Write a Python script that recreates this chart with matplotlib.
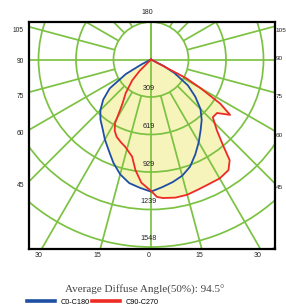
import numpy as np
import matplotlib
matplotlib.use('Agg')
import matplotlib.pyplot as plt
from matplotlib.patches import Circle, Polygon
from matplotlib.lines import Line2D

# ---------------- data ----------------
ring_labels = [309, 619, 929, 1239, 1548]
side_ticks = [105, 90, 75, 60, 45]
bottom_ticks = [-30, -15, 0, 15, 30]
top_tick = 180

# C0-C180 (blue); angle in degrees from nadir, negative = left half
c0_angles = [-63, -60, -55, -50, -45, -40, -35, -30, -25, -20, -15, -10, -5, 0,
             5, 10, 15, 20, 25, 30, 35, 40, 45, 50, 55, 60, 63]
c0_values = [83, 240, 417, 515, 591, 649, 697, 762, 827, 908, 982, 1036, 1063, 1091,
             1058, 1028, 994, 942, 865, 788, 714, 651, 578, 477, 371, 223, 116]

# C90-C270 (red)
c90_angles = [-45, -42, -37, -33, -31.5, -29.5, -27, -24, -20, -16.5, -11, -8, -4.5, 0,
              2.5, 5, 10, 15, 20, 25, 30, 35, 38, 40, 43, 47, 51, 55, 57.5, 60, 62]
c90_values = [132, 231, 347, 430, 487, 603, 660, 698, 727, 751, 817, 922, 1020, 1085,
              1136, 1148, 1158, 1156, 1142, 1134, 1134, 1115, 1055, 925, 796, 698, 702,
              797, 677, 470, 330]

caption = "Average Diffuse Angle(50%): 94.5°"
legend_labels = ["C0-C180", "C90-C270"]

# ---------------- style ----------------
GREEN = '#7cc242'
FILL = '#f6f3bb'
BLUE = '#1f4fa3'
RED = '#ee2a24'
LABEL_FONT = ['Liberation Sans', 'DejaVu Sans']

fig = plt.figure(figsize=(2.86, 3.08), dpi=100)
ax = fig.add_axes([29/286, 1-249/308, 246/286, 227/308])
ring_step = ring_labels[-1] / 5.0
px = ring_step / 37.5  # data units per pixel

xmin, xmax = -122*px, 124*px
ymin, ymax = -189.5*px, 37.5*px
ax.set_xlim(xmin, xmax)
ax.set_ylim(ymin, ymax)
ax.set_aspect('equal')
ax.set_xticks([]); ax.set_yticks([])
for s in ax.spines.values():
    s.set_linewidth(1.6)
    s.set_color('black')
    s.set_zorder(10)


def to_xy(angles, values):
    a = np.radians(np.asarray(angles, float))
    v = np.asarray(values, float)
    x = np.concatenate([[0], v*np.sin(a), [0]])
    y = np.concatenate([[0], -v*np.cos(a), [0]])
    return x, y

bx, by = to_xy(c0_angles, c0_values)
rx, ry = to_xy(c90_angles, c90_values)

ax.add_patch(Polygon(np.c_[bx, by], closed=True, facecolor=FILL, edgecolor='none', zorder=1))
ax.add_patch(Polygon(np.c_[rx, ry], closed=True, facecolor=FILL, edgecolor='none', zorder=1))

# grid rings
for k in range(1, 8):
    ax.add_patch(Circle((0, 0), k*ring_step, fill=False, edgecolor=GREEN, lw=1.25, zorder=2))
# radial lines
R = 4000
for a in range(-180, 181, 15):
    r0 = 0 if a % 90 == 0 else ring_step
    t = np.radians(a)
    ax.plot([r0*np.sin(t), R*np.sin(t)], [-r0*np.cos(t), -R*np.cos(t)],
            color=GREEN, lw=1.25, zorder=2, solid_capstyle='butt')

ax.plot(bx, by, color=BLUE, lw=1.3, zorder=4)
ax.plot(rx, ry, color=RED, lw=1.3, zorder=5)

# ring labels
for k, lab in enumerate(ring_labels, start=1):
    ax.text(-2*px, -k*ring_step + 8*px, str(lab), fontsize=5.2, ha='center', va='center',
            color='#222222', zorder=6, family=LABEL_FONT)

# side labels
for a in side_ticks:
    t = np.radians(a)
    yl = -abs(xmin)/np.tan(t) if a != 90 else 0
    yr = -abs(xmax)/np.tan(t) if a != 90 else 0
    off = -4*px if a != 90 else 0
    ax.text(xmin - 5*px, yl + off - (2*px if a == 90 else 0), str(a), fontsize=4.8,
            ha='right', va='center', color='#222222', clip_on=False, family=LABEL_FONT)
    ax.text(xmax + 0.6*px, yr + off - (-1.5*px if a == 90 else 0), str(a), fontsize=4.6,
            ha='left', va='center', color='#222222', clip_on=False, family=LABEL_FONT)

# bottom labels
for a in bottom_ticks:
    xb = abs(ymin)*np.tan(np.radians(a))
    ax.text(xb - 2.5*px, ymin - 3*px, str(abs(a)), fontsize=5, ha='center', va='top',
            color='#222222', clip_on=False, family=LABEL_FONT)

ax.text(-4*px, ymax + 9*px, str(top_tick), fontsize=5, ha='center', va='center',
        color='#222222', clip_on=False, family=LABEL_FONT)

fig.text(145/286, 1-290/308, caption, fontsize=8, ha='center', va='center',
         family='Liberation Serif', color='#444444')

handles = [Line2D([], [], color=BLUE, lw=2.6), Line2D([], [], color=RED, lw=2.6)]
fig.legend(handles, legend_labels, loc='center left', bbox_to_anchor=(27/286, 1-302/308),
           ncol=2, frameon=False, prop={'family': LABEL_FONT, 'size': 5.2},
           handlelength=3.9, handletextpad=0.7, columnspacing=0.4,
           borderpad=0, borderaxespad=0)

fig.savefig('out.png', dpi=100)
